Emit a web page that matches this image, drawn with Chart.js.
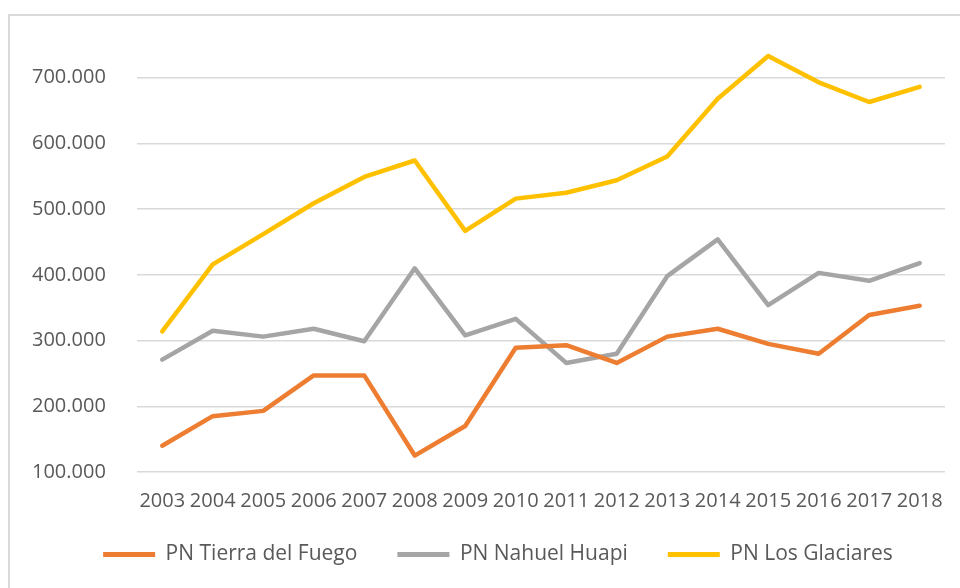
<!DOCTYPE html>
<html lang="es">
  <head>
    <meta charset="utf-8" />
    <title>Visitantes por parque nacional</title>
    <style>
      * {
        margin: 0;
        padding: 0;
      }
      body {
        width: 960px;
        height: 588px;
        overflow: hidden;
        background: #fff;
        position: relative;
      }
      .frame {
        position: absolute;
        left: 8px;
        top: 14px;
        width: 1000px;
        height: 1000px;
        border-left: 2px solid #d9d9d9;
        border-top: 2px solid #d9d9d9;
        pointer-events: none;
      }
      .chartBox {
        position: absolute;
        left: 0;
        top: 0;
      }
    </style>
  </head>
  <body>
    <div class="chartBox">
      <canvas id="myChart" width="960" height="588"></canvas>
    </div>
    <div class="frame"></div>

    <script src="https://cdn.jsdelivr.net/npm/chart.js"></script>

    <script>
      const years = ["2003", "2004", "2005", "2006", "2007", "2008", "2009", "2010",
        "2011", "2012", "2013", "2014", "2015", "2016", "2017", "2018"];
      const tierraDelFuego = [140000, 185000, 193000, 247000, 247000, 125000, 170000, 289000,
        293000, 266000, 306000, 318000, 295000, 280000, 339000, 353000];
      const nahuelHuapi = [271000, 315000, 306000, 318000, 299000, 410000, 308000, 333000,
        266000, 280000, 398000, 454000, 354000, 403000, 391000, 418000];
      const losGlaciares = [314000, 416000, 462000, 509000, 549000, 574000, 467000, 516000,
        525000, 544000, 580000, 668000, 733000, 693000, 663000, 686000];

      const font = "'Open Sans', sans-serif";
      const textColor = "#595959";

      // 700000 -> "700.000"
      const fmt = (v) => String(v).replace(/\B(?=(\d{3})+(?!\d))/g, ".");

      const line = (label, values, color) => ({
        label: label,
        data: values,
        borderColor: color,
        backgroundColor: color,
        borderWidth: 4.5,
        borderJoinStyle: "round",
        borderCapStyle: "round",
        pointRadius: 0,
        tension: 0,
      });

      const data = {
        labels: years,
        datasets: [
          line("PN Tierra del Fuego", tierraDelFuego, "#ED7D31"),
          line("PN Nahuel Huapi", nahuelHuapi, "#A5A5A5"),
          line("PN Los Glaciares", losGlaciares, "#FFC000"),
        ],
      };

      // nudge the legend a bit right and up, like the excel original
      const legendOffset = {
        id: "legendOffset",
        afterLayout(chart) {
          const lg = chart.legend;
          lg.left += 18;
          lg.top -= 13;
          lg.bottom -= 13;
        },
      };

      const config = {
        type: "line",
        data: data,
        options: {
          responsive: false,
          animation: false,
          layout: {
            padding: { left: 32, right: 14, top: 11, bottom: 0 },
          },
          plugins: {
            tooltip: { enabled: false },
            legend: {
              position: "bottom",
              labels: {
                color: textColor,
                font: { family: font, size: 21 },
                boxWidth: 52,
                boxHeight: 5,
                padding: 40,
                generateLabels: (chart) =>
                  Chart.defaults.plugins.legend.labels
                    .generateLabels(chart)
                    .map((item) => ({ ...item, lineWidth: 0 })),
              },
            },
          },
          scales: {
            x: {
              offset: true,
              grid: { display: false, drawTicks: false },
              border: { display: false },
              ticks: {
                color: textColor,
                font: { family: font, size: 20 },
                padding: 17,
                autoSkip: false,
                maxRotation: 0,
                minRotation: 0,
              },
              afterFit: (axis) => {
                axis.height = 45;
              },
            },
            y: {
              min: 100000,
              max: 800000,
              grid: { color: "#d9d9d9", lineWidth: 1.5, drawTicks: false },
              border: { display: false },
              ticks: {
                stepSize: 100000,
                color: textColor,
                font: { family: font, size: 20 },
                padding: 0,
                crossAlign: "far",
                callback: (v) => fmt(v),
              },
              afterBuildTicks: (axis) => {
                axis.ticks = axis.ticks.filter((t) => t.value <= 700000);
              },
              afterFit: (axis) => {
                axis.width = 105;
              },
            },
          },
        },
        plugins: [legendOffset],
      };

      const myChart = new Chart(document.getElementById("myChart"), config);
    </script>
  </body>
</html>
